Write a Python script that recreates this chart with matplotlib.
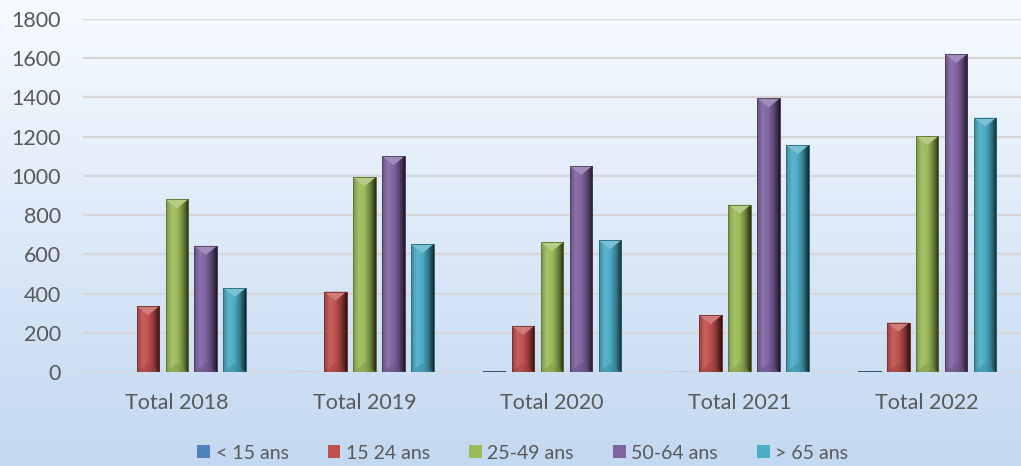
import numpy as np
import matplotlib
matplotlib.use("Agg")
import matplotlib.pyplot as plt
from matplotlib.colors import to_rgb, LinearSegmentedColormap
from matplotlib.patches import Polygon, Patch

categories = ["Total 2018", "Total 2019", "Total 2020", "Total 2021", "Total 2022"]
series_names = ["< 15 ans", "15 24 ans", "25-49 ans", "50-64 ans", "> 65 ans"]
lt15 = [0, 1, 3, 2, 3]
a15_24 = [335, 410, 235, 290, 252]
a25_49 = [880, 993, 662, 853, 1203]
a50_64 = [643, 1100, 1050, 1395, 1621]
gt65 = [428, 652, 672, 1157, 1297]
series = [lt15, a15_24, a25_49, a50_64, gt65]
colors = ["#4f81bd", "#c0504d", "#9bbb59", "#8064a2", "#4bacc6"]
yticks = [0, 200, 400, 600, 800, 1000, 1200, 1400, 1600, 1800]

plt.rcParams['font.family'] = ['Lato', 'DejaVu Sans']
W, H, DPI = 1021, 466, 100
fig = plt.figure(figsize=(W / DPI, H / DPI), dpi=DPI)

# background gradient
bg = fig.add_axes([0, 0, 1, 1], zorder=-10)
grad = np.linspace(0, 1, 256)[:, None]
top_c = np.array(to_rgb("#f6fbff"))
bot_c = np.array(to_rgb("#c3d8f1"))
img = top_c[None, None, :] * (1 - grad[:, :, None]) + bot_c[None, None, :] * grad[:, :, None]
img = np.repeat(img, 4, axis=1)
bg.imshow(img, aspect='auto', extent=[0, 1, 0, 1], origin='upper')
bg.axis('off')

ax_l, ax_b, ax_r, ax_t = 83 / W, (H - 372) / H, 1.0, 1 - 19 / H
ax = fig.add_axes([ax_l, ax_b, ax_r - ax_l, ax_t - ax_b])
ax.patch.set_alpha(0)
ax.set_ylim(0, 1800)
ax.set_xlim(-0.5, len(categories) - 0.5)
ax.set_yticks(yticks)
ax.set_yticklabels([str(t) for t in yticks])
ax.set_xticks(range(len(categories)))
ax.set_xticklabels(categories)
for s in ax.spines.values():
    s.set_visible(False)
ax.tick_params(axis='both', length=0, labelsize=15.5, colors="#595959")
ax.tick_params(axis='y', pad=16)
ax.tick_params(axis='x', pad=15)
ax.grid(axis='y', color="#d6d6d6", linewidth=1.6, zorder=0)
ax.set_axisbelow(True)

pitch = 29 / 188.0
bw = 22.6 / 188.0
x = np.arange(len(categories))
ax_h_px = (ax_t - ax_b) * H
ypp = 1800 / ax_h_px  # data units per pixel (y)

def shade(c, f):
    c = np.array(to_rgb(c))
    if f >= 1:
        return tuple(c + (1 - c) * (f - 1))
    return tuple(c * f)

for i, (vals, col) in enumerate(zip(series, colors)):
    off = (i - 2) * pitch
    bars = ax.bar(x + off, vals, width=bw, color=col, zorder=2,
                  edgecolor=shade(col, 0.75), linewidth=0.6)
    cmap = LinearSegmentedColormap.from_list("g", [shade(col, 0.8), shade(col, 1.1),
                                                   shade(col, 1.0), shade(col, 0.7),
                                                   shade(col, 0.25)])
    for b in bars:
        h = b.get_height()
        if h <= 0:
            continue
        x0, w = b.get_x(), b.get_width()
        g = np.linspace(0, 1, 64)[None, :]
        im = ax.imshow(g, cmap=cmap, aspect='auto', extent=[x0, x0 + w, 0, h],
                       zorder=2.1, interpolation='bilinear')
        im.set_clip_path(b)
        d = min(9 * ypp, h / 2)
        ax.add_patch(Polygon([[x0, h], [x0 + w, h], [x0 + w / 2, h - d]], closed=True,
                             facecolor=shade(col, 1.25), edgecolor='none', zorder=2.2))
        ax.add_patch(Polygon([[x0, 0], [x0 + w, 0], [x0 + w / 2, d]], closed=True,
                             facecolor=shade(col, 0.8), edgecolor='none', zorder=2.2, alpha=0.45))
        ax.add_patch(Polygon([[x0, 0], [x0 + w, 0], [x0 + w, h], [x0, h]], closed=True,
                             facecolor='none', edgecolor=shade(col, 0.6), linewidth=0.6, zorder=2.3))
ax.set_xlim(-0.5, len(categories) - 0.5)
ax.set_ylim(0, 1800)

handles = [Patch(facecolor=c, edgecolor='none') for c in colors]
fig.legend(handles, series_names, loc='lower center', bbox_to_anchor=(0.512, -0.028),
           ncol=5, frameon=False, fontsize=14, labelcolor="#595959",
           handlelength=0.65, handleheight=0.65, handletextpad=0.3, columnspacing=2.0)

fig.savefig("out.png", dpi=DPI)
